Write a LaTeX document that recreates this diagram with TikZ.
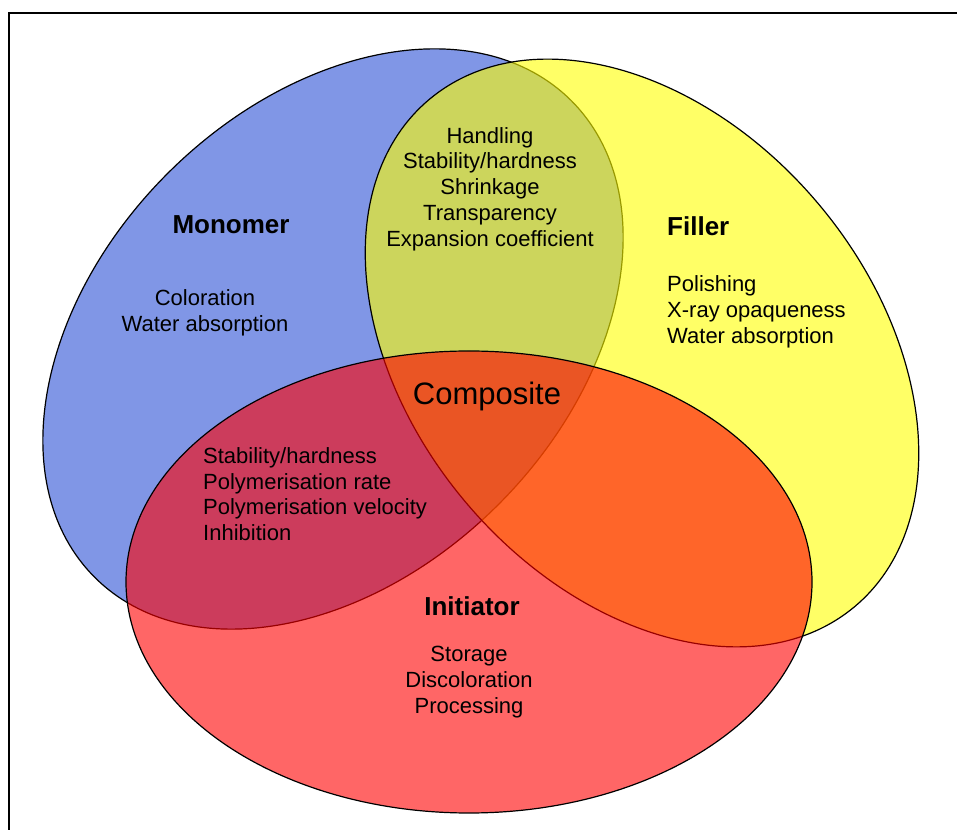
\documentclass[tikz,border=0pt]{standalone}
\usepackage{fontspec}
\setmainfont{Liberation Sans}

\definecolor{monoblue}{RGB}{128,150,230}
\definecolor{filleryellow}{RGB}{255,255,0}
\definecolor{initred}{RGB}{255,0,0}

\begin{document}
\begin{tikzpicture}[x=1pt,y=1pt,
	ring/.style={draw=black, line width=1.2pt},
	props/.style={font=\fontsize{22}{25.7}\selectfont, align=center, inner sep=0pt},
	head/.style={font=\fontsize{26}{30}\selectfont\bfseries, inner sep=0pt}]

	\useasboundingbox (0,0) rectangle (957,829);
	\draw[line width=1.5pt] (9,-20) -- (9,816) -- (980,816);

	% the three components
	\draw[ring, fill=monoblue, rotate around={45:(333,490)}] (333,490) ellipse (337 and 234);
	\draw[ring, fill=filleryellow, fill opacity=0.6, rotate around={-50:(642,476)}]
		(642,476) ellipse (331 and 231);
	\draw[ring, fill=initred, fill opacity=0.6] (469,247) ellipse (343 and 231);

	\node[head] (monomer) at (231,604) {Monomer};
	\node[props] (monoprops) at (205,516) {Coloration\\Water absorption};

	\node[props] (monofill) at (490,640)
		{Handling\\Stability/hardness\\Shrinkage\\Transparency\\Expansion coefficient};

	\node[head, anchor=west] (filler) at (667,603) {Filler};
	\node[props, align=left, anchor=west] (fillprops) at (667,517)
		{Polishing\\X-ray opaqueness\\Water absorption};

	\node[font=\fontsize{31}{36}\selectfont, inner sep=0pt] (composite) at (487,433) {Composite};

	\node[props, align=left, anchor=west] (monoinit) at (203,335)
		{Stability/hardness\\Polymerisation rate\\Polymerisation velocity\\Inhibition};

	\node[head] (initiator) at (472,223) {Initiator};
	\node[props] (initprops) at (469,147) {Storage\\Discoloration\\Processing};

\end{tikzpicture}
\end{document}
